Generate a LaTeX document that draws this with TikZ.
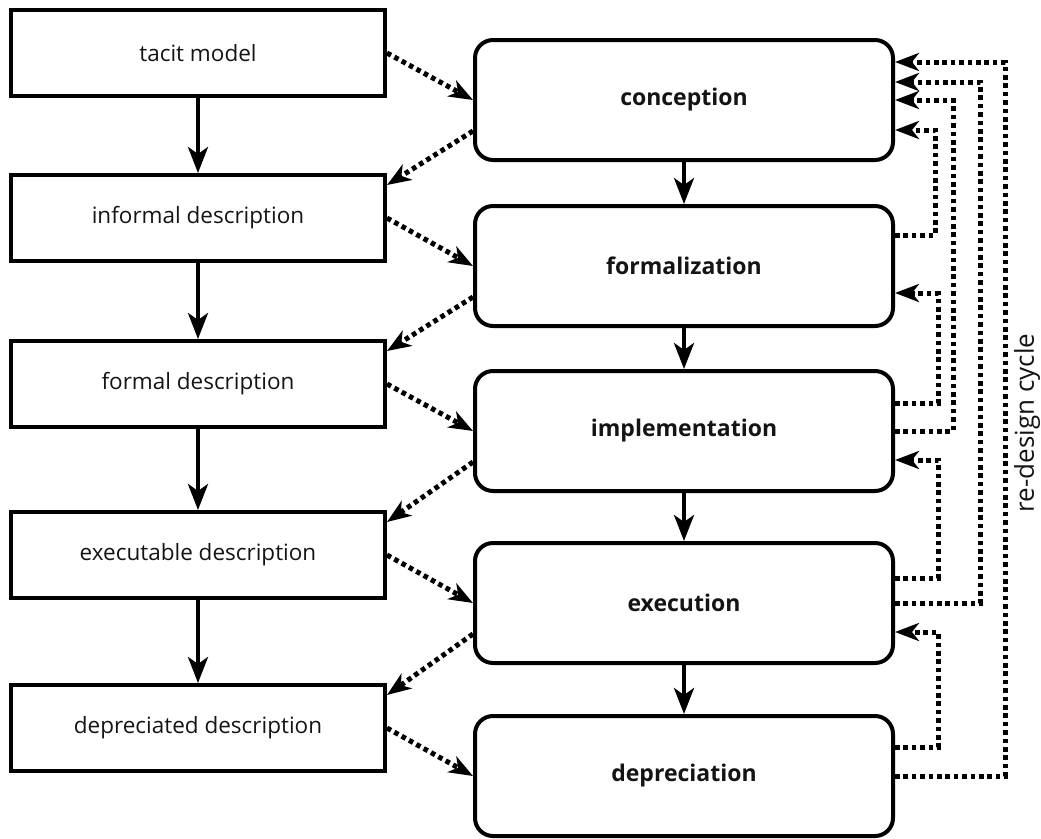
\documentclass[tikz,border=0pt]{standalone}
\usepackage{fontspec}
\setmainfont{Open Sans}
\usetikzlibrary{arrows.meta,calc}
\begin{document}
\begin{tikzpicture}[x=1pt,y=-1pt,
  lbox/.style={draw, line width=4pt, minimum width=374pt, minimum height=86pt, inner sep=0pt,
    font=\fontsize{22.5}{26}\selectfont, text=black!92},
  rbox/.style={draw, line width=4pt, rounded corners=18pt, minimum width=418pt, minimum height=120pt, inner sep=0pt,
    font=\fontsize{23}{27}\bfseries\selectfont, text=black!92},
  solidarr/.style={line width=4pt, -{Stealth[length=26pt,width=20pt,inset=7pt]}},
  dotarr/.style={line width=5pt, dash pattern=on 4.6pt off 3.8pt, -{Stealth[length=24pt,width=18pt,inset=7pt]}},
]
\useasboundingbox (0,0) rectangle (1041,838);
% left column
\node[lbox] (tacit) at (198,53) {tacit model};
\node[lbox] (inf) at (198,218) {informal description};
\node[lbox] (form) at (198,384) {formal description};
\node[lbox] (exe) at (198,555) {executable description};
\node[lbox] (dep) at (198,728) {depreciated description};
% right column
\node[rbox] (conc) at (684,100) {conception};
\node[rbox] (fml) at (684,266) {formalization};
\node[rbox] (impl) at (684,431) {implementation};
\node[rbox] (exec) at (684,603) {execution};
\node[rbox] (depr) at (684,776) {depreciation};
% solid arrows
\draw[solidarr] (tacit) -- (inf);
\draw[solidarr] (inf) -- (form);
\draw[solidarr] (form) -- (exe);
\draw[solidarr] (exe) -- (dep);
\draw[solidarr] (conc) -- (fml);
\draw[solidarr] (fml) -- (impl);
\draw[solidarr] (impl) -- (exec);
\draw[solidarr] (exec) -- (depr);
% forward dotted arrows
\draw[dotarr] (tacit.east) -- (conc.west);
\draw[dotarr] (inf.east) -- (fml.west);
\draw[dotarr] (form.east) -- (impl.west);
\draw[dotarr] (exe.east) -- (exec.west);
\draw[dotarr] (dep.east) -- (depr.west);
% return dotted arrows
\draw[dotarr] ($(conc.west)+(0,31)$) -- ($(inf.north east)+(0,12)$);
\draw[dotarr] ($(fml.west)+(0,31)$) -- ($(form.north east)+(0,12)$);
\draw[dotarr] ($(impl.west)+(0,31)$) -- ($(exe.north east)+(0,12)$);
\draw[dotarr] ($(exec.west)+(0,31)$) -- ($(dep.north east)+(0,12)$);
% feedback loops
\draw[dotarr] ($(fml.east)+(0,-31)$) -| ($(conc.east)+(40,30)$) -- ($(conc.east)+(0,30)$);
\draw[dotarr] ($(impl.east)+(0,-28)$) -| ($(fml.east)+(43,27)$) -- ($(fml.east)+(0,27)$);
\draw[dotarr] (impl.east) -| ($(conc.east)+(58,0)$) -- (conc.east);
\draw[dotarr] ($(exec.east)+(0,-25)$) -| ($(impl.east)+(43,29)$) -- ($(impl.east)+(0,29)$);
\draw[dotarr] (exec.east) -| ($(conc.east)+(85,-18)$) -- ($(conc.east)+(0,-18)$);
\draw[dotarr] ($(depr.east)+(0,-29)$) -| ($(exec.east)+(43,29)$) -- ($(exec.east)+(0,29)$);
\draw[dotarr] (depr.east) -| ($(conc.east)+(110,-38)$) -- ($(conc.east)+(0,-38)$);
% label
\node[rotate=90, font=\fontsize{26}{30}\selectfont, text=black!92] (lbl) at (1027,423) {re-design cycle};
\end{tikzpicture}
\end{document}
